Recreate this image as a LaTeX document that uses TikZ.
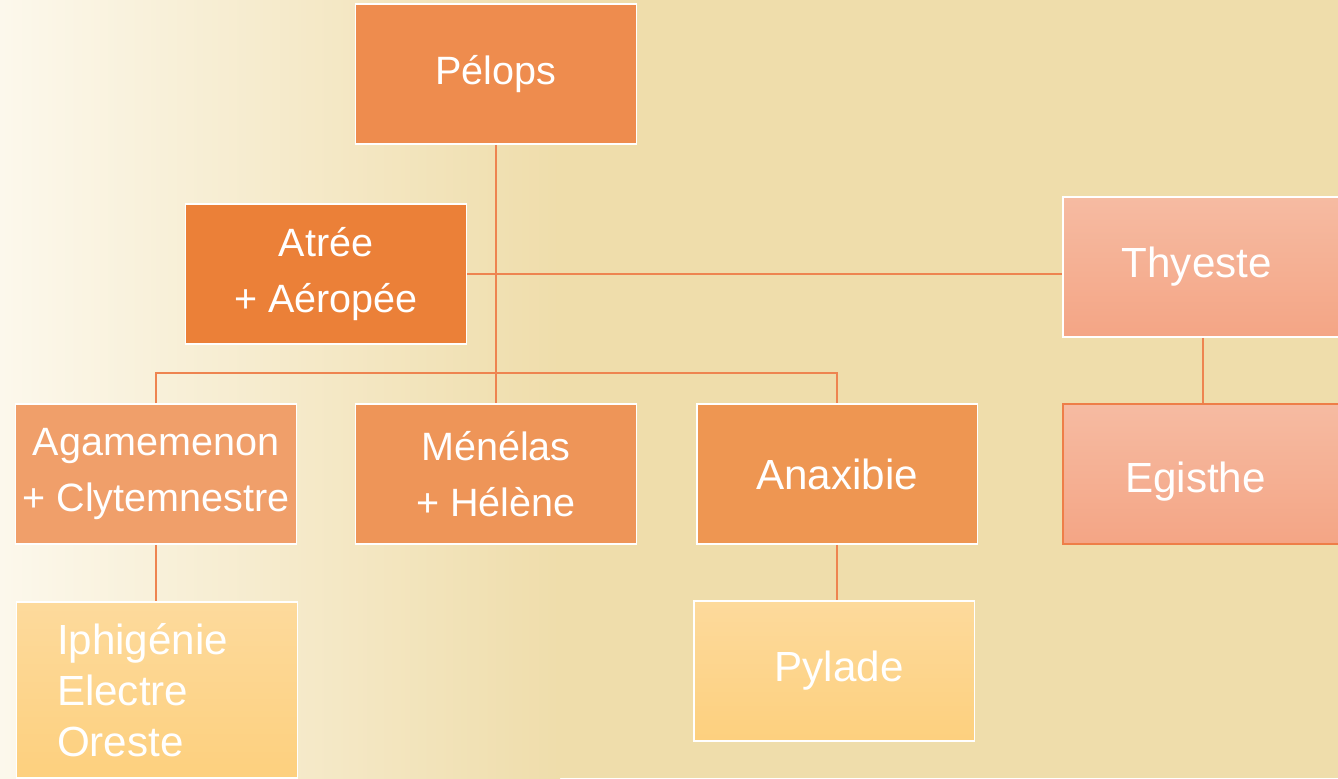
\documentclass[tikz,border=0pt]{standalone}
\usepackage{fontspec}
\setmainfont{Liberation Sans}
\usepackage{xcolor}
\definecolor{fonda}{HTML}{FCF8EC}
\definecolor{fondb}{HTML}{EFDDAB}
\definecolor{trait}{HTML}{EE8450}
\definecolor{orpelops}{HTML}{EE8C4E}
\definecolor{oratree}{HTML}{EB8038}
\definecolor{oraga}{HTML}{F09F6A}
\definecolor{ormene}{HTML}{EE9558}
\definecolor{oranax}{HTML}{EE9652}
\definecolor{saumonh}{HTML}{F6BBA2}
\definecolor{saumonb}{HTML}{F4A585}
\definecolor{jauneh}{HTML}{FDDA9C}
\definecolor{jauneb}{HTML}{FDD07E}
\definecolor{bordegis}{HTML}{EE7E48}
\tikzset{
  perso/.style={minimum width=5.62cm,minimum height=2.8cm,inner sep=0pt,
    draw=white,line width=1.1pt,text=white,align=center,
    font=\fontsize{22.5}{32}\selectfont},
  grand/.style={font=\fontsize{24}{29}\selectfont},
  saumon/.style={perso,grand,top color=saumonh,bottom color=saumonb},
  jaune/.style={perso,grand,top color=jauneh,bottom color=jauneb},
  lien/.style={draw=trait,line width=1.1pt}
}

\begin{document}
\begin{tikzpicture}[x=0.02cm,y=-0.02cm]
        \useasboundingbox (0,0) rectangle (1338,778);
        \clip (0,0) rectangle (1338,778);
        \shade[left color=fonda,right color=fondb] (0,0) rectangle (560,778);
        \fill[fondb] (560,0) rectangle (1338,778);
        % branche de Pelops
        \foreach \n/\x/\y/\col/\txt in {
          pelops/496/74/orpelops/Pélops,
          atree/326/274/oratree/Atrée\\+ Aéropée,
          agamemenon/156/474/oraga/Agamemenon\\+ Clytemnestre,
          menelas/496/474/ormene/Ménélas\\+ Hélène
        }{
          \node[perso,fill=\col] (\n) at (\x,\y) {\txt};
        }
        \node[perso,grand,fill=oranax] (anaxibie) at (837,474) {Anaxibie};
        \node[saumon] (thyeste) at (1203,267) {\hspace*{-0.25cm}Thyeste};
        \node[saumon,draw=bordegis] (egisthe) at (1203,474)
          {\hspace*{-0.3cm}\raisebox{-0.15cm}[\height][\depth]{Egisthe}};
        \node[jaune,minimum height=3.52cm,text width=4cm,align=left,inner xsep=0.8cm] (enfants)
          at (157,690) {Iphigénie\\Electre\\Oreste};
        \node[jaune] (pylade) at (834,671) {\hspace*{0.2cm}Pylade};
        % liens
        \coordinate (fratrie) at (496,373);
        \draw[lien] (pelops.south) -- (menelas.north);
        \draw[lien] (atree.east) -- (atree.east -| thyeste.west);
        \draw[lien] (agamemenon.north) |- (fratrie) -| (anaxibie.north);
        \draw[lien] (thyeste.south) -- (egisthe.north);
        \draw[lien] (agamemenon.south) -- (agamemenon.south |- enfants.north);
        \draw[lien] (anaxibie.south) -- (anaxibie.south |- pylade.north);
      \end{tikzpicture}
\end{document}
